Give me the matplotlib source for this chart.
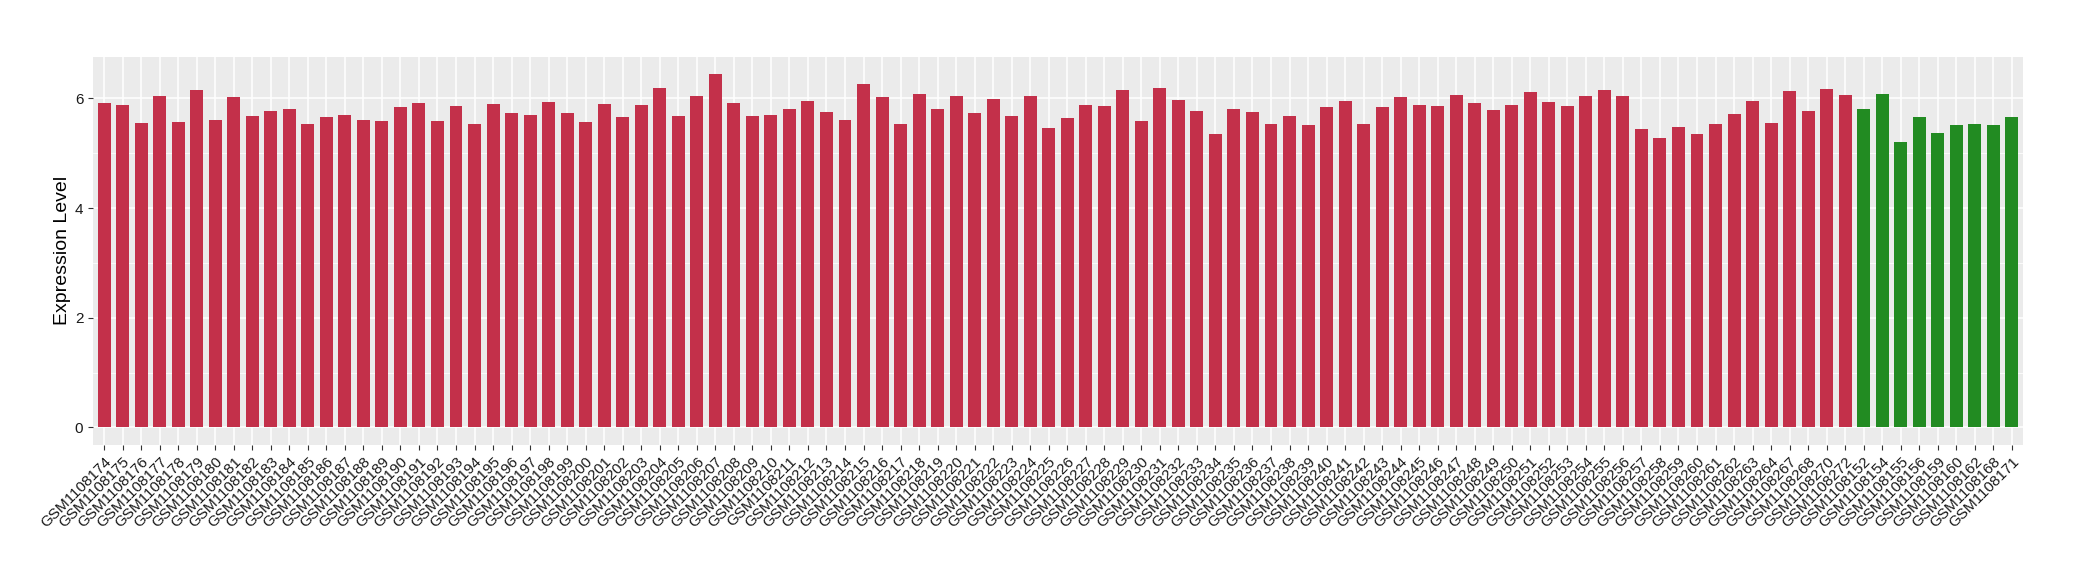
import numpy as np
import matplotlib
matplotlib.use("Agg")
import matplotlib.pyplot as plt

# sample ids (red group then green group)
red_ids = [str(n) for n in range(1108174, 1108265)] + ["1108267", "1108268", "1108270", "1108272"]
green_ids = ["1108152", "1108154", "1108155", "1108156", "1108159", "1108160", "1108162", "1108168", "1108171"]

red_vals = [
    5.91, 5.88, 5.55, 6.04, 5.57, 6.15, 5.61, 6.02, 5.68, 5.77,
    5.81, 5.53, 5.66, 5.70, 5.61, 5.59, 5.84, 5.91, 5.59, 5.86,
    5.53, 5.90, 5.73, 5.70, 5.93, 5.73, 5.57, 5.90, 5.66, 5.88,
    6.19, 5.68, 6.04, 6.44, 5.91, 5.68, 5.70, 5.81, 5.95, 5.75,
    5.61, 6.26, 6.02, 5.53, 6.08, 5.81, 6.04, 5.73, 5.99, 5.68,
    6.04, 5.46, 5.64, 5.88, 5.86, 6.15, 5.59, 6.20, 5.97, 5.77,
    5.35, 5.81, 5.75, 5.53, 5.68, 5.52, 5.84, 5.95, 5.53, 5.84,
    6.02, 5.88, 5.86, 6.06, 5.91, 5.79, 5.88, 6.11, 5.93, 5.86,
    6.04, 6.15, 6.04, 5.44, 5.28, 5.48, 5.35, 5.53, 5.72, 5.95,
    5.55, 6.13, 5.77, 6.17, 6.06,
]
green_vals = [5.81, 6.08, 5.21, 5.66, 5.37, 5.52, 5.53, 5.52, 5.66]

labels = ["GSM" + s for s in red_ids + green_ids]
values = red_vals + green_vals
colors = ["#C3304A"] * len(red_vals) + ["#228B22"] * len(green_vals)

plt.rcParams['font.family'] = ['Liberation Sans', 'DejaVu Sans']

fig = plt.figure(figsize=(20.8, 5.8), dpi=100)
ax = fig.add_axes([0.0447, 0.2328, 0.9279, 0.6694])
ax.set_facecolor("#EBEBEB")

x = np.arange(len(values))
ax.bar(x, values, width=0.7, color=colors, zorder=3)

ax.set_xlim(-0.6, len(values) - 0.4)
top = max(values) * 1.05
ax.set_ylim(-max(values) * 0.05, top)

ax.set_yticks([0, 2, 4, 6])
ax.set_yticks([1, 3, 5], minor=True)
ax.set_xticks(x)
ax.set_xticklabels(labels, rotation=45, ha="right", va="top", rotation_mode="anchor",
                   fontsize=11, color="#1A1A1A")
ax.tick_params(axis="y", labelsize=11, labelcolor="#1A1A1A")
ax.tick_params(axis="both", which="major", color="#333333", length=3.5, width=0.8)
ax.tick_params(axis="y", which="minor", length=0)

ax.grid(which="major", color="white", linewidth=1.1, zorder=0)
ax.grid(which="minor", axis="y", color="white", linewidth=0.55, zorder=0)
ax.set_axisbelow(True)
for s in ax.spines.values():
    s.set_visible(False)

ax.set_ylabel("Expression Level", fontsize=14, labelpad=3)

fig.savefig("out.png", dpi=100)
